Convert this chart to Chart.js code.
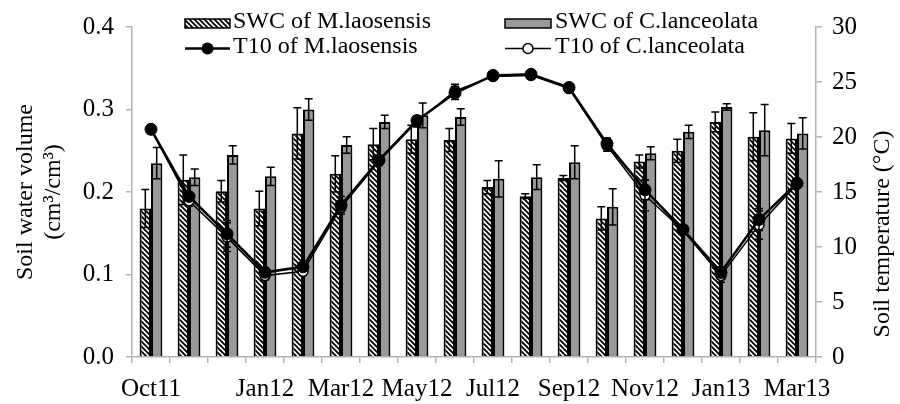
<!DOCTYPE html>
<html>
<head>
<meta charset="utf-8">
<script src="https://cdn.jsdelivr.net/npm/chart.js@4.4.0/dist/chart.umd.min.js"></script>
<style>
    body { margin: 0; background: #fff; }
    #wrap { width: 900px; height: 404px; }
</style>
</head>
<body>
<div id="wrap"><canvas id="grafico" width="900" height="404"></canvas></div>
<script>
// months Oct11 .. Mar13
const months = ['Oct11', 'Nov11', 'Dec11', 'Jan12', 'Feb12', 'Mar12', 'Apr12', 'May12', 'Jun12',
    'Jul12', 'Aug12', 'Sep12', 'Oct12', 'Nov12', 'Dec12', 'Jan13', 'Feb13', 'Mar13'];
const xTickLabels = ['Oct11', '', '', 'Jan12', '', 'Mar12', '', 'May12', '', 'Jul12', '', 'Sep12', '',
    'Nov12', '', 'Jan13', '', 'Mar13'];

// soil water content (cm3/cm3)
const swcM = [0.180, 0.215, 0.201, 0.180, 0.271, 0.222, 0.258, 0.264, 0.263, 0.206, 0.195, 0.217, 0.168, 0.237, 0.250, 0.285, 0.267, 0.265];
const swcMErr = [0.023, 0.030, 0.013, 0.021, 0.031, 0.022, 0.019, 0.017, 0.014, 0.008, 0.003, 0.003, 0.014, 0.008, 0.014, 0.012, 0.029, 0.018];
const swcC = [0.235, 0.218, 0.245, 0.219, 0.300, 0.257, 0.285, 0.293, 0.291, 0.216, 0.218, 0.236, 0.182, 0.247, 0.273, 0.303, 0.275, 0.271];
const swcCErr = [0.019, 0.010, 0.011, 0.011, 0.013, 0.010, 0.008, 0.015, 0.010, 0.022, 0.015, 0.020, 0.022, 0.008, 0.008, 0.004, 0.031, 0.019];

// soil temperature at 10 cm (°C)
const t10M = [20.7, 14.6, 11.2, 7.7, 8.2, 13.8, 17.9, 21.5, 24.0, 25.6, 25.7, 24.5, 19.4, 15.2, 11.6, 7.7, 12.5, 15.8];
const t10MErr = [0.4, 0.3, 1.2, 0.4, 0.3, 0.8, 0.4, 0.4, 0.6, 0.3, 0.4, 0.3, 0.5, 0.9, 0.3, 0.5, 1.0, 0.3];
const t10C = [20.7, 14.2, 10.9, 7.4, 7.8, 13.6, 17.8, 21.4, 24.2, 25.5, 25.6, 24.4, 19.2, 14.7, 11.5, 7.4, 12.0, 15.7];
const t10CErr = [0.3, 0.5, 1.3, 0.4, 0.4, 0.4, 0.4, 0.5, 0.6, 0.3, 0.3, 0.3, 0.5, 1.4, 0.3, 0.6, 1.3, 0.3];

const fonte = "'Liberation Serif', 'Times New Roman', serif";

function criarHachura() {
    const c = document.createElement('canvas');
    c.width = 5; c.height = 5;
    const g = c.getContext('2d');
    g.fillStyle = '#fff';
    g.fillRect(0, 0, 5, 5);
    g.strokeStyle = '#000';
    g.lineWidth = 1.9;
    g.beginPath();
    g.moveTo(-1, -1); g.lineTo(6, 6);
    g.moveTo(-1, 4); g.lineTo(1, 6);
    g.moveTo(4, -1); g.lineTo(6, 1);
    g.stroke();
    return g.createPattern(c, 'repeat');
}
const hachura = criarHachura();

function desenharErros(chart, args) {
    const ds = chart.data.datasets[args.index];
    const meta = args.meta;
    const scale = chart.scales[meta.yAxisID];
    const ctx = chart.ctx;
    ctx.save();
    ctx.strokeStyle = '#000';
    ctx.lineWidth = 1.5;
    meta.data.forEach((el, i) => {
        const v = ds.data[i], e = ds.erros[i];
        const topo = scale.getPixelForValue(v + e);
        const base = scale.getPixelForValue(v - e);
        ctx.beginPath();
        ctx.moveTo(el.x, topo); ctx.lineTo(el.x, base);
        ctx.moveTo(el.x - 4, topo); ctx.lineTo(el.x + 4, topo);
        ctx.moveTo(el.x - 4, base); ctx.lineTo(el.x + 4, base);
        ctx.stroke();
    });
    ctx.restore();
}

const errorBars = {
    id: 'errorBars',
    beforeDatasetDraw(chart, args) {
        if (chart.data.datasets[args.index].type === 'line') desenharErros(chart, args);
    },
    afterDatasetDraw(chart, args) {
        if (chart.data.datasets[args.index].type === 'bar') desenharErros(chart, args);
    }
};

const legendaETitulo = {
    id: 'legendaETitulo',
    afterDraw(chart) {
        const ctx = chart.ctx;
        ctx.save();
        ctx.font = '24px ' + fonte;
        ctx.fillStyle = '#000';
        ctx.textBaseline = 'middle';
        ctx.textAlign = 'left';

        // row 1: bar swatches
        ctx.lineWidth = 1.5;
        ctx.strokeStyle = '#000';
        ctx.fillStyle = hachura;
        ctx.fillRect(185, 19, 45, 9);
        ctx.strokeRect(185, 19, 45, 9);
        ctx.fillStyle = '#999999';
        ctx.fillRect(505, 19, 46, 9);
        ctx.strokeRect(505, 19, 46, 9);
        ctx.fillStyle = '#000';
        ctx.fillText('SWC of M.laosensis', 233, 22);
        ctx.fillText('SWC of C.lanceolata', 555, 22);

        // row 2: line swatches
        ctx.lineWidth = 2.5;
        ctx.beginPath(); ctx.moveTo(185, 48.5); ctx.lineTo(230, 48.5); ctx.stroke();
        ctx.beginPath(); ctx.arc(207.5, 48.5, 6, 0, Math.PI * 2); ctx.fill();
        ctx.lineWidth = 1.5;
        ctx.beginPath(); ctx.moveTo(505, 48.5); ctx.lineTo(551, 48.5); ctx.stroke();
        ctx.beginPath(); ctx.arc(528, 48.5, 5, 0, Math.PI * 2);
        ctx.fillStyle = '#fff'; ctx.fill(); ctx.stroke();
        ctx.fillStyle = '#000';
        ctx.fillText('T10 of M.laosensis', 233, 47);
        ctx.fillText('T10 of C.lanceolata', 555, 47);

        // right axis title, reading bottom to top
        ctx.translate(883, 234);
        ctx.rotate(-Math.PI / 2);
        ctx.textAlign = 'center';
        ctx.fillText('Soil temperature (°C)', 0, 0);
        ctx.restore();
    }
};

const corEixo = '#b3b3b3';

new Chart(document.getElementById('grafico'), {
    data: {
        labels: months,
        datasets: [
            {
                type: 'bar', label: 'SWC of M.laosensis', data: swcM, erros: swcMErr, yAxisID: 'y',
                backgroundColor: hachura, borderColor: '#000', borderWidth: 2, order: 2,
                categoryPercentage: 0.6, barPercentage: 1.0
            },
            {
                type: 'bar', label: 'SWC of C.lanceolata', data: swcC, erros: swcCErr, yAxisID: 'y',
                backgroundColor: '#999999', borderColor: '#000', borderWidth: 2, order: 3,
                categoryPercentage: 0.6, barPercentage: 1.0
            },
            {
                type: 'line', label: 'T10 of M.laosensis', data: t10M, erros: t10MErr, yAxisID: 'y1',
                borderColor: '#000', borderWidth: 2.5, pointRadius: 6, pointBackgroundColor: '#000',
                pointBorderColor: '#000', pointBorderWidth: 1, tension: 0, order: 0
            },
            {
                type: 'line', label: 'T10 of C.lanceolata', data: t10C, erros: t10CErr, yAxisID: 'y1',
                borderColor: '#000', borderWidth: 1.5, pointRadius: 5, pointBackgroundColor: '#fff',
                pointBorderColor: '#000', pointBorderWidth: 1.5, tension: 0, order: 1
            }
        ]
    },
    options: {
        responsive: false,
        animation: false,
        events: [],
        layout: { padding: { top: 23, left: 0, right: 0, bottom: 0 } },
        plugins: { legend: { display: false }, tooltip: { enabled: false } },
        scales: {
            x: {
                offset: true,
                afterFit: s => { s.height = 47; },
                border: { color: corEixo, width: 1.5 },
                grid: { offset: true, drawOnChartArea: false, drawTicks: true, tickLength: 6, color: corEixo, lineWidth: 1.5 },
                ticks: {
                    autoSkip: false, maxRotation: 0, padding: 11, color: '#000',
                    font: { family: fonte, size: 25 },
                    callback: (v, i) => xTickLabels[i]
                }
            },
            y: {
                position: 'left', min: 0, max: 0.4,
                afterFit: s => { s.width = 132; },
                border: { color: corEixo, width: 1.5 },
                grid: { drawOnChartArea: false, drawTicks: true, tickLength: 6, color: corEixo, lineWidth: 1.5 },
                ticks: {
                    stepSize: 0.1, padding: 12, color: '#000',
                    font: { family: fonte, size: 25 },
                    callback: v => v.toFixed(1)
                },
                title: {
                    display: true, text: ['Soil water volume', '(cm³/cm³)'], color: '#000',
                    font: { family: fonte, size: 24 }, padding: { top: 11, bottom: 0 }
                }
            },
            y1: {
                position: 'right', min: 0, max: 30,
                afterFit: s => { s.width = 84; },
                border: { color: corEixo, width: 1.5 },
                grid: { drawOnChartArea: false, drawTicks: true, tickLength: 6, color: corEixo, lineWidth: 1.5 },
                ticks: {
                    stepSize: 5, padding: 10, color: '#000',
                    font: { family: fonte, size: 25 }
                }
            }
        }
    },
    plugins: [errorBars, legendaETitulo]
});
</script>
</body>
</html>
